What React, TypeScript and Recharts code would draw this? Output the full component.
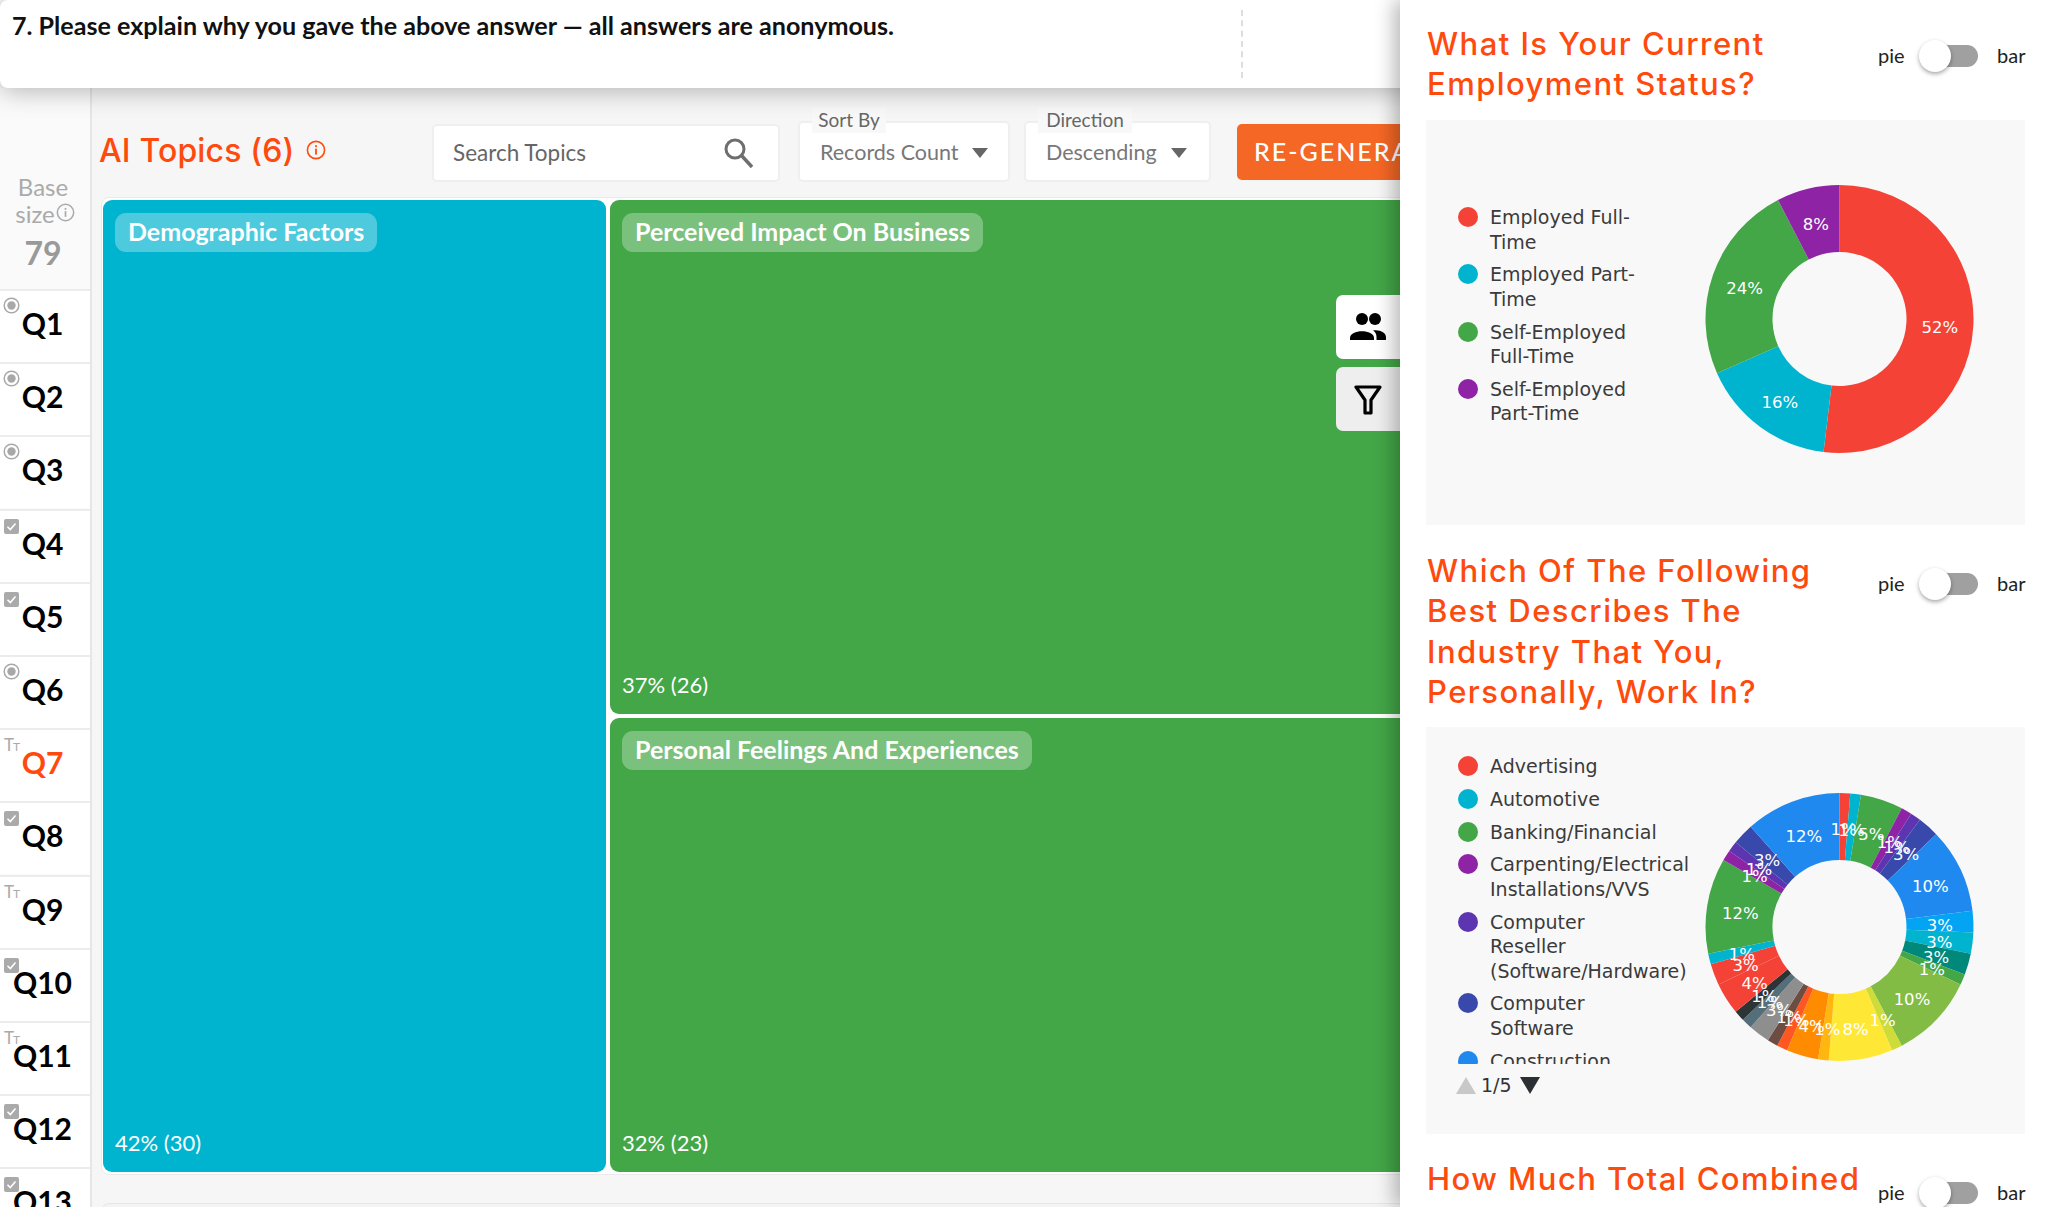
import React from 'react';
import { PieChart, Pie, Legend, Treemap } from 'recharts';

const employmentNames = ['Employed Full-\nTime', 'Employed Part-\nTime', 'Self-Employed\nFull-Time', 'Self-Employed\nPart-Time'];
const employmentCounts = [41, 13, 19, 6];
const employmentColors = ['#F44336', '#00B4D0', '#43A647', '#8E24A5'];

const industryNames = ['Advertising', 'Automotive', 'Banking/Financial', 'Carpenting/Electrical\nInstallations/VVS', 'Computer\nReseller\n(Software/Hardware)', 'Computer\nSoftware', 'Construction'];
const industryCounts = [1, 1, 4, 1, 1, 2, 8, 2, 2, 2, 1, 8, 1, 6, 1, 3, 1, 1, 2, 1, 1, 3, 2, 1, 9, 1, 1, 2, 9];
const industryColors = ['#F44336', '#00B4D0', '#43A647', '#8E24A5', '#5E35B1', '#3949AB', '#1F89F0', '#03A4F4', '#00B4D0', '#00897B', '#43A647', '#82BC44', '#CDDC39', '#FFE835', '#FFB60F', '#FF8C00', '#FF5722', '#6D4C41', '#8E8E8E', '#546E7A', '#2D3436', '#F44336', '#F44336', '#00B4D0', '#43A647', '#8E24A5', '#5E35B1', '#3949AB', '#1F89F0'];

const topicNames = ['Demographic Factors', 'Perceived Impact On Business', 'Personal Feelings And Experiences'];
const topicCounts = [30, 26, 23];
const topicPercents = [42, 37, 32];
const topicColors = ['#00B4D0', '#43A647', '#43A647'];

const questions = ['Q1', 'Q2', 'Q3', 'Q4', 'Q5', 'Q6', 'Q7', 'Q8', 'Q9', 'Q10', 'Q11', 'Q12', 'Q13'];
const questionKinds = ['radio', 'radio', 'radio', 'check', 'check', 'radio', 'text', 'check', 'text', 'check', 'text', 'check', 'check'];

const employmentRows = employmentCounts.map((value, i) => ({ name: employmentNames[i], value, fill: employmentColors[i] }));
const industryRows = industryCounts.map((value, i) => ({ name: industryNames[i] ?? '', value, fill: industryColors[i] }));
const topicRows = topicCounts.map((size, i) => ({ name: topicNames[i], size, pct: topicPercents[i], fill: topicColors[i] }));

const ORANGE = '#FF4A0D';
const UI = 'Lato, sans-serif';
const TITLE = 'Inter, sans-serif';
const LEG = '"DejaVu Sans", sans-serif';

const abs = (left: number, top: number, width: number, height: number, extra: any = {}): any => ({ position: 'absolute', left, top, width, height, ...extra });

function pieLabel(p: any) {
  const r = (p.innerRadius + p.outerRadius) / 2;
  const a = (-p.midAngle * Math.PI) / 180;
  return (
    <text x={p.cx + r * Math.cos(a)} y={p.cy + r * Math.sin(a) + 3} fill="#fff" fontFamily={LEG} fontSize={16.5} textAnchor="middle" dominantBaseline="central">
      {Math.round(p.percent * 100)}%
    </text>
  );
}

function legendBody(clip: any, gap: number) {
  return (props: any) => (
    <div style={{ ...clip, overflow: 'hidden', fontFamily: LEG, fontSize: 19, lineHeight: '24.5px', color: '#3b3b3b' }}>
      {(props.payload || []).filter((e: any) => e.value).map((e: any, i: number) => (
        <div key={i} style={{ position: 'relative', paddingLeft: 64, marginBottom: gap, whiteSpace: 'pre-line' }}>
          <span style={{ position: 'absolute', left: 32, top: 2, width: 20, height: 20, borderRadius: 10, background: e.color }} />
          {e.value}
        </div>
      ))}
    </div>
  );
}

function Tile(p: any) {
  if (p.depth !== 1) return null;
  const { x, y, width, height, name, pct, size, fill } = p;
  return (
    <g>
      <rect x={x + 2} y={y + 2} width={width - 4} height={height - 4} rx={9} fill={fill} />
      <foreignObject x={x + 14} y={y + 15} width={width - 20} height={44}>
        <div style={{ display: 'inline-block', height: 39, lineHeight: '36px', padding: '0 13px', borderRadius: 11, background: 'rgba(255,255,255,0.3)', color: '#fff', fontFamily: UI, fontWeight: 700, fontSize: 25, whiteSpace: 'nowrap' }}>{name}</div>
      </foreignObject>
      <text x={x + 14} y={y + height - 23} fill="#fff" fontFamily={UI} fontSize={22}>{`${pct}% (${size})`}</text>
    </g>
  );
}

function Info({ x, y, color, size }: any) {
  return (
    <svg style={abs(x, y, size, size)} viewBox="0 0 20 20">
      <circle cx="10" cy="10" r="8.6" fill="none" stroke={color} strokeWidth="1.6" />
      <rect x="9.1" y="8.6" width="1.8" height="6" fill={color} />
      <rect x="9.1" y="5.2" width="1.8" height="1.9" fill={color} />
    </svg>
  );
}

function Toggle({ y }: any) {
  return (
    <>
      <div style={abs(1878, y - 15, 30, 28, { fontFamily: UI, fontSize: 20, lineHeight: '28px', color: '#222' })}>pie</div>
      <div style={abs(1933, y - 11, 45, 22, { background: '#a0a0a0', borderRadius: 11 })} />
      <div style={abs(1919, y - 16, 32, 32, { background: '#fff', borderRadius: 16, boxShadow: '0 2px 4px rgba(0,0,0,0.35)' })} />
      <div style={abs(1997, y - 15, 32, 28, { fontFamily: UI, fontSize: 20, lineHeight: '28px', color: '#222' })}>bar</div>
    </>
  );
}

function Title({ y, lines }: any) {
  return lines.map((t: string, i: number) => (
    <div key={i} style={abs(1427, y + i * 40.4 - 20, 500, 40, { fontFamily: TITLE, fontWeight: 500, fontSize: 31, lineHeight: '40px', letterSpacing: 1.45, color: ORANGE, whiteSpace: 'nowrap' })}>{t}</div>
  ));
}

function Kind({ kind, y }: any) {
  if (kind === 'radio') {
    return (
      <svg style={abs(3, y + 8, 17, 17)} viewBox="0 0 17 17">
        <circle cx="8.5" cy="8.5" r="7.3" fill="none" stroke="#a8a8a8" strokeWidth="1.5" />
        <circle cx="8.5" cy="8.5" r="4.2" fill="#a8a8a8" />
      </svg>
    );
  }
  if (kind === 'check') {
    return (
      <svg style={abs(4, y + 10, 15, 15)} viewBox="0 0 15 15">
        <rect width="15" height="15" rx="2" fill="#aaa" />
        <path d="M3.5 7.8 L6.3 10.6 L11.5 4.6" fill="none" stroke="#fff" strokeWidth="1.6" />
      </svg>
    );
  }
  return <div style={abs(4, y + 8, 18, 18, { fontFamily: UI, fontSize: 17, lineHeight: '18px', color: '#aaa', letterSpacing: -1 })}>T<span style={{ fontSize: 12 }}>T</span></div>;
}

export default function App() {
  return (
    <div style={abs(0, 0, 2048, 1207, { overflow: 'hidden', background: '#f6f6f6', fontFamily: UI })}>
      {/* left question rail */}
      <div style={abs(0, 88, 92, 1119, { background: '#fafafa', borderRight: '2px solid #e6e6e6', boxSizing: 'border-box' })} />
      <div style={abs(0, 171, 86, 32, { textAlign: 'center', fontSize: 24, lineHeight: '32px', color: '#aaa' })}>Base</div>
      <div style={abs(9, 198, 52, 32, { textAlign: 'center', fontSize: 24, lineHeight: '32px', color: '#aaa' })}>size</div>
      <Info x={56} y={203} color="#aaa" size={19} />
      <div style={abs(0, 234, 86, 38, { textAlign: 'center', fontWeight: 700, fontSize: 32, lineHeight: '38px', color: '#999' })}>79</div>
      {questions.map((q, i) => {
        const y = 289 + i * 73.2;
        return (
          <div key={q}>
            <div style={abs(0, y, 90, 71, { background: '#fff', borderTop: '2px solid #ececec', boxSizing: 'content-box' })} />
            <Kind kind={questionKinds[i]} y={y} />
            <div style={abs(0, y + 14, 85, 40, { textAlign: 'center', fontWeight: 700, fontSize: 30, lineHeight: '40px', color: q === 'Q7' ? ORANGE : '#000' })}>{q}</div>
          </div>
        );
      })}

      {/* toolbar */}
      <div style={abs(99, 129, 240, 44, { color: ORANGE, fontFamily: TITLE, fontWeight: 500, fontSize: 32, letterSpacing: 0.15, lineHeight: '44px', whiteSpace: 'nowrap' })}>AI Topics (6)</div>
      <Info x={306} y={140} color={ORANGE} size={20} />
      <div style={abs(432, 124, 348, 58, { background: '#fff', border: '2px solid #efefef', borderRadius: 5, boxSizing: 'border-box' })} />
      <div style={abs(453, 136, 200, 34, { fontSize: 22.5, lineHeight: '34px', color: '#666' })}>Search Topics</div>
      <svg style={abs(722, 136, 34, 34)} viewBox="0 0 34 34">
        <circle cx="13" cy="13" r="9" fill="none" stroke="#6e6e6e" strokeWidth="3" />
        <path d="M20 20 L30 31" stroke="#6e6e6e" strokeWidth="3.4" />
      </svg>
      {[[798, 212, 'Sort By', 'Records Count', 980, 60], [1024, 187, 'Direction', 'Descending', 1179, 80]].map((b: any) => (
        <div key={b[2]}>
          <div style={abs(b[0], 121, b[1], 61, { background: '#fff', border: '2px solid #efefef', borderRadius: 5, boxSizing: 'border-box' })} />
          <div style={abs(b[0] + 14, 107, b[5] + 14, 26, { background: '#f8f8f8', textAlign: 'center', fontSize: 19, lineHeight: '26px', color: '#666' })}>{b[2]}</div>
          <div style={abs(b[0] + 22, 134, 150, 36, { fontSize: 21.5, lineHeight: '36px', color: '#777', whiteSpace: 'nowrap' })}>{b[3]}</div>
          <svg style={abs(b[4] - 8, 148, 16, 10)} viewBox="0 0 16 10"><path d="M0 0 H16 L8 10 Z" fill="#666" /></svg>
        </div>
      ))}
      <div style={abs(1237, 124, 200, 56, { background: '#F56725', borderRadius: 5, color: '#fff', fontSize: 25, fontWeight: 500, lineHeight: '54px', paddingLeft: 17, letterSpacing: 2, whiteSpace: 'nowrap', boxSizing: 'border-box', overflow: 'hidden' })}>RE-GENERATE</div>

      {/* topic tiles */}
      <div style={abs(101, 197, 1400, 978, { background: '#fff', border: '1px solid #eaeaea', borderRadius: 8, boxSizing: 'border-box' })} />
      <div style={abs(101, 1203, 1400, 30, { background: '#f3f3f3', border: '1px solid #e6e6e6', borderRadius: 8, boxSizing: 'border-box' })} />
      <div style={{ position: 'absolute', left: 101, top: 198 }}>
        <Treemap width={1335} height={976} data={topicRows} dataKey="size" nameKey="name" aspectRatio={1} isAnimationActive={false} content={<Tile />} />
      </div>

      {/* floating tools */}
      <div style={abs(1336, 295, 90, 64, { background: '#fff', borderRadius: 7 })} />
      <div style={abs(1336, 367, 90, 64, { background: '#eeeeee', borderRadius: 7 })} />
      <svg style={abs(1350, 310, 36, 32)} viewBox="0 0 36 32">
        <circle cx="12" cy="9" r="6" /><circle cx="25" cy="9" r="6" />
        <path d="M0 28 C0 19 24 19 24 28 V30 H0 Z" /><path d="M26.5 30 V27 C26.5 23.5 25 21.6 23 20.4 C30 19.3 36 22.5 36 27 V30 Z" />
      </svg>
      <svg style={abs(1354, 384, 28, 32)} viewBox="0 0 28 32">
        <path d="M2 3 H26 L17 16 V29 H11 V16 Z" fill="none" stroke="#000" strokeWidth="3.2" strokeLinejoin="round" />
      </svg>

      {/* header */}
      <div style={abs(0, 0, 1500, 88, { background: '#fff', boxShadow: '0 3px 26px rgba(0,0,0,0.28)', borderRadius: 8 })} />
      <div style={abs(12, 7, 1100, 36, { fontWeight: 700, fontSize: 25.1, lineHeight: '36px', color: '#111', whiteSpace: 'nowrap' })}>7. Please explain why you gave the above answer — all answers are anonymous.</div>
      <div style={abs(1241, 10, 0, 68, { borderLeft: '2px dashed #ddd' })} />

      {/* right panel */}
      <div style={abs(1400, 0, 648, 1207, { background: '#fff', boxShadow: '-6px 0 18px rgba(0,0,0,0.28)' })} />
      <Title y={44} lines={['What Is Your Current', 'Employment Status?']} />
      <Toggle y={56} />
      <div style={abs(1426, 120, 599, 405, { background: '#f8f8f9' })}>
        <PieChart width={598} height={405} margin={{ top: 0, right: 0, bottom: 0, left: 0 }}>
          <Pie data={employmentRows} dataKey="value" nameKey="name" cx={413.5} cy={199} innerRadius={67} outerRadius={134} startAngle={90} endAngle={-270} stroke="none" label={pieLabel} labelLine={false} isAnimationActive={false} />
          <Legend layout="horizontal" verticalAlign="top" align="left" wrapperStyle={{ left: 0, top: 85, width: 290, height: 0 }} content={legendBody({ width: 290, height: 240 }, 8.3)} />
        </PieChart>
      </div>
      <Title y={571} lines={['Which Of The Following', 'Best Describes The', 'Industry That You,', 'Personally, Work In?']} />
      <Toggle y={584} />
      <div style={abs(1426, 727, 599, 407, { background: '#f8f8f9' })}>
        <PieChart width={598} height={407} margin={{ top: 0, right: 0, bottom: 0, left: 0 }}>
          <Pie data={industryRows} dataKey="value" nameKey="name" cx={413.5} cy={200} innerRadius={67} outerRadius={134} startAngle={90} endAngle={-270} stroke="none" label={pieLabel} labelLine={false} isAnimationActive={false} />
          <Legend layout="horizontal" verticalAlign="top" align="left" wrapperStyle={{ left: 0, top: 27, width: 290, height: 0 }} content={legendBody({ width: 290, height: 310 }, 8.3)} />
        </PieChart>
        <svg style={abs(30, 350, 20, 17)} viewBox="0 0 20 17"><path d="M10 0 L20 17 H0 Z" fill="#c8c8c8" /></svg>
        <div style={abs(55, 344, 50, 28, { fontFamily: LEG, fontSize: 19, lineHeight: '28px', color: '#333' })}>1/5</div>
        <svg style={abs(94, 350, 20, 17)} viewBox="0 0 20 17"><path d="M10 17 L20 0 H0 Z" fill="#2b2f33" /></svg>
      </div>
      <Title y={1179} lines={['How Much Total Combined']} />
      <Toggle y={1193} />
    </div>
  );
}
